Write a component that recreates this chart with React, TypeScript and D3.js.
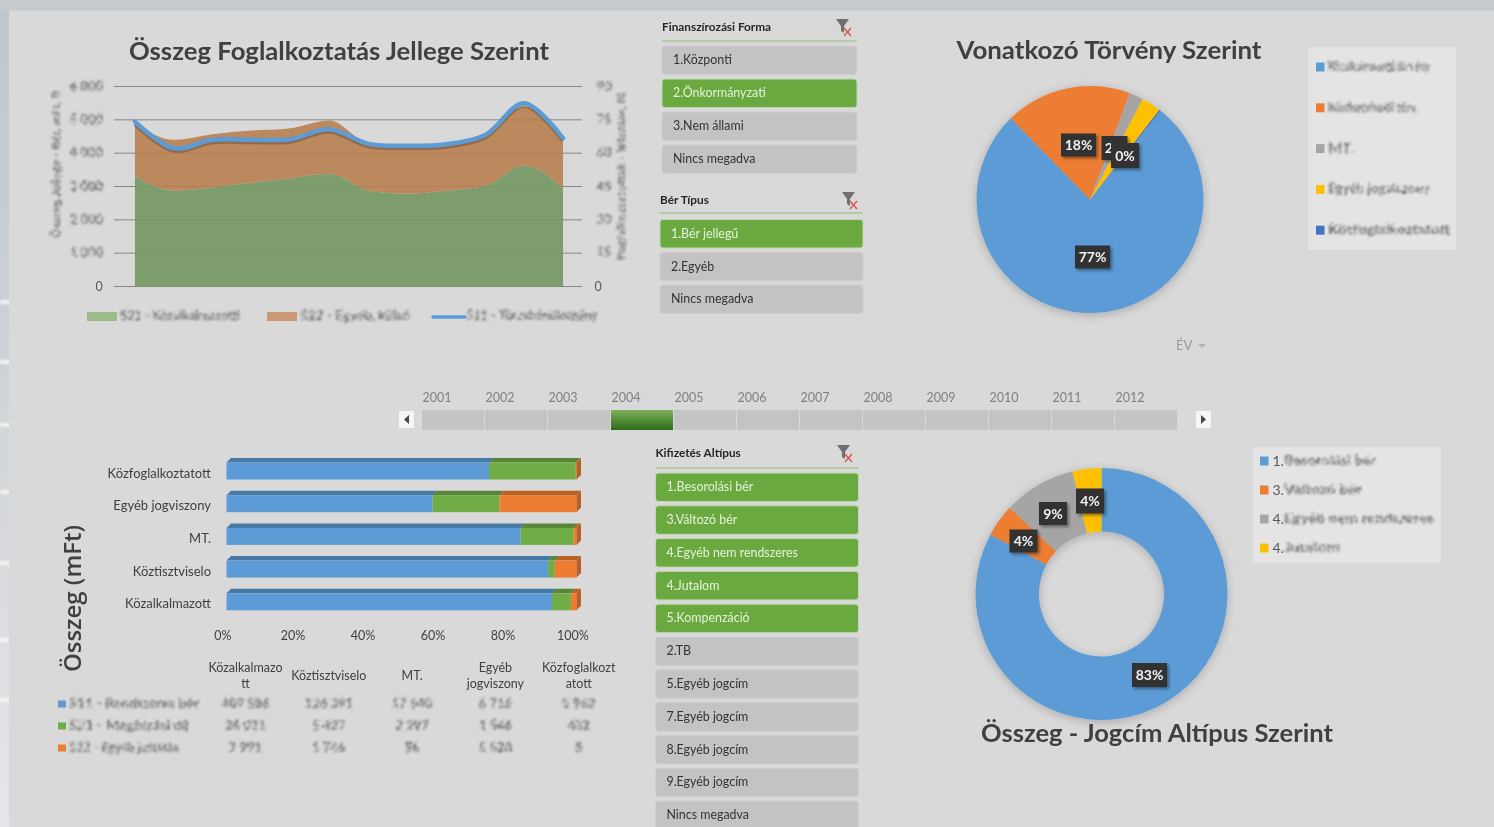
import React from "react";
import * as d3 from "d3";

const months = ["01","02","03","04","05","06","07","08","09","10","11","12"];
const greenSeries = [3300,2880,2970,3120,3250,3380,2880,2780,2870,3020,3630,2950];
const orangeSeries = [1600,1520,1600,1560,1500,1600,1400,1390,1380,1560,1770,1450];
const lineSeries = [74.2,62.2,66,66,66.3,70.8,64.2,63.3,64,68.2,82.5,66.7];
const rightTicks = [0,15,30,45,60,75,90];
const areaLegend = ["521 - Közalkalmazotti","522 - Egyéb, külső","511 - Törzsbérállomány"];

const pieValues = [77,18,2,2.8,0.2];
const pieNames = ["Közalkalmazotti törvény","Köztisztviselői törv.","MT.","Egyéb jogviszony","Közfoglalkoztatott"];
const pieColors = ["#5b9bd5","#ed7d31","#a5a5a5","#ffc000","#4472c4"];

const donutValues = [82.8,4.2,9.3,3.7];
const donutPrefix = ["1.","3.","4.","4."];
const donutNames = ["Besorolási bér","Változó bér","Egyéb nem rendszeres","Jutalom"];
const donutColors = ["#5b9bd5","#ed7d31","#a5a5a5","#ffc000"];

const barCats = ["Közfoglalkoztatott","Egyéb jogviszony","MT.","Köztisztviselo","Közalkalmazott"];
const barBlue = [75,58.9,84,91.9,93];
const barGreen = [24.8,19.1,15.2,1.9,5.4];
const barOrange = [0.2,22,0.8,6.2,1.6];
const barTicks = [0,20,40,60,80,100];

const tableHeads = [["Közalkalmazo","tt"],["Köztisztviselo"],["MT."],["Egyéb","jogviszony"],["Közfoglalkozt","atott"]];
const tableNames = ["511 - Rendszeres bér","521 - Megbízási díj","522 - Egyéb juttatás"];
const tableRows = [
  ["409 586","126 391","17 540","6 716","5 962"],
  ["26 021","5 427","2 297","1 546","432"],
  ["7 991","1 746","56","5 620","5"],
];
const tableColors = ["#5b9bd5","#70ad47","#ed7d31"];

const years = ["2001","2002","2003","2004","2005","2006","2007","2008","2009","2010","2011","2012"];
const selectedYear = "2004";

const slicerA = ["1.Központi","2.Önkormányzati","3.Nem állami","Nincs megadva"];
const slicerAOn = ["2.Önkormányzati"];
const slicerB = ["1.Bér jellegű","2.Egyéb","Nincs megadva"];
const slicerBOn = ["1.Bér jellegű"];
const slicerC = ["1.Besorolási bér","3.Változó bér","4.Egyéb nem rendszeres","4.Jutalom","5.Kompenzáció","2.TB","5.Egyéb jogcím","7.Egyéb jogcím","8.Egyéb jogcím","9.Egyéb jogcím","Nincs megadva"];
const slicerCOn = ["1.Besorolási bér","3.Változó bér","4.Egyéb nem rendszeres","4.Jutalom","5.Kompenzáció"];

const edgeStreaks = [302,362,425,492,563,640,700];

const FONT = "Lato, 'Open Sans', sans-serif";
const W = 1494, H = 827;
const fmt = d3.formatLocale({ decimal: ",", thousands: " ", grouping: [3], currency: ["", ""] }).format(",d");

function Funnel({ x, y }: { x: number; y: number }) {
  return (
    <g transform={`translate(${x},${y})`}>
      <path d="M-7,-9 H6 L1,-2 V5 L-2,3 V-2 Z" fill="#6f6f6f" />
      <path d="M1,0 L8,8 M8,0 L1,8" stroke="#d9534f" strokeWidth={1.4} fill="none" />
    </g>
  );
}

function Slicer({ title, items, on, x, w, titleY, lineY, y0, step, h, ix }: any) {
  return (
    <g fontFamily={FONT}>
      <text x={x} y={titleY} fontSize={11.8} fontWeight={700} fill="#262626">{title}</text>
      <line x1={x} x2={x + w} y1={lineY} y2={lineY} stroke="#a9c596" strokeWidth={1.6} />
      <Funnel x={ix} y={titleY - 3} />
      {items.map((t: string, i: number) => {
        const act = on.includes(t);
        return (
          <g key={t}>
            <rect x={x} y={y0 + i * step} width={w} height={h} rx={3} fill={act ? "#6aa93f" : "#c3c3c3"} stroke={act ? "#c0d8ae" : "#cfcfcf"} strokeWidth={1} />
            <text x={x + 11} y={y0 + i * step + h / 2 + 4} fontSize={12.4} fill={act ? "#e6f2dc" : "#333"}>{t}</text>
          </g>
        );
      })}
    </g>
  );
}

function Box({ cx, cy, w, h, t }: { cx: number; cy: number; w: number; h: number; t: string }) {
  return (
    <g filter="url(#lblShadow)">
      <rect x={cx - w / 2} y={cy - h / 2} width={w} height={h} fill="#333333" />
      <text x={cx} y={cy + 5} textAnchor="middle" fontSize={14} fontWeight={700} fill="#f2f2f2" fontFamily={FONT}>{t}</text>
    </g>
  );
}

export default function App() {
  // area chart
  const xA = d3.scalePoint<string>().domain(months).range([115.5, 582.5]).padding(0.5);
  const yL = d3.scaleLinear().domain([0, 6000]).range([286.5, 86.5]);
  const yR = d3.scaleLinear().domain([0, 90]).range([286.5, 86.5]);
  const rows = months.map((m, i) => ({ m, g: greenSeries[i], o: orangeSeries[i], l: lineSeries[i] }));
  const stacked = d3.stack<any>().keys(["g", "o"])(rows);
  const area = d3.area<any>().x((d) => xA(d.data.m)!).y0((d) => yL(d[0])).y1((d) => yL(d[1])).curve(d3.curveMonotoneX);
  const line = d3.line<any>().x((d) => xA(d.m)!).y((d) => yR(d.l)).curve(d3.curveCatmullRom.alpha(0.5));
  const ticks = yL.ticks(6);

  // pie
  const pieGen = d3.pie<number>().sort(null).startAngle((38.5 * Math.PI) / 180).endAngle((398.5 * Math.PI) / 180);
  const pieArcs = pieGen(pieValues);
  const pieArc = d3.arc<any>().innerRadius(0).outerRadius(113.5);

  // donut
  const donutArcs = d3.pie<number>().sort(null)(donutValues);
  const donutArc = d3.arc<any>().innerRadius(62.5).outerRadius(126);

  // bars
  const xB = d3.scaleLinear().domain([0, 100]).range([226.5, 576.5]);
  const yB = d3.scaleBand().domain(barCats).range([458, 621.5]).paddingInner(0);
  const depth = 4.5;
  const barH = 17;
  const darken = (c: string) => d3.color(c)!.darker(0.7).formatHex();

  // timeline
  const xT = d3.scaleBand().domain(years).range([422, 1178]);

  const redact = (seed: number) => `url(#redact${seed})`;

  return (
    <svg width={W} height={H} viewBox={`0 0 ${W} ${H}`} style={{ position: "absolute", left: 0, top: 0, display: "block" }}>
      <defs>
        <filter id="soft" filterUnits="userSpaceOnUse" x={0} y={0} width={W} height={H}>
          <feGaussianBlur stdDeviation={0.45} />
        </filter>
        <filter id="streak" x="-20%" y="-200%" width="140%" height="500%">
          <feGaussianBlur stdDeviation={1.2} />
        </filter>
        {[1, 2, 3].map((s) => (
          <filter key={s} id={`redact${s}`} x="-15%" y="-80%" width="130%" height="260%">
            <feTurbulence type="fractalNoise" baseFrequency={0.55} numOctaves={2} seed={s * 7} result="n" />
            <feDisplacementMap in="SourceGraphic" in2="n" scale={6} xChannelSelector="R" yChannelSelector="G" result="d" />
            <feGaussianBlur in="d" stdDeviation={0.85} />
          </filter>
        ))}
        <filter id="redactV" x="-80%" y="-10%" width="260%" height="120%">
          <feTurbulence type="fractalNoise" baseFrequency={0.55} numOctaves={2} seed={5} result="n" />
          <feDisplacementMap in="SourceGraphic" in2="n" scale={6} xChannelSelector="R" yChannelSelector="G" result="d" />
          <feGaussianBlur in="d" stdDeviation={0.85} />
        </filter>
        <filter id="pieShadow" x="-20%" y="-20%" width="140%" height="140%">
          <feDropShadow dx={0} dy={2} stdDeviation={5} floodColor="#000" floodOpacity={0.22} />
        </filter>
        <filter id="lblShadow" x="-30%" y="-30%" width="170%" height="170%">
          <feDropShadow dx={2} dy={2} stdDeviation={1.5} floodColor="#000" floodOpacity={0.4} />
        </filter>
        <linearGradient id="sel" x1="0" x2="0" y1="0" y2="1">
          <stop offset="0" stopColor="#7fb060" />
          <stop offset="0.55" stopColor="#4f8a32" />
          <stop offset="1" stopColor="#2f6b1c" />
        </linearGradient>
        <linearGradient id="edge" x1="0" x2="0" y1="0" y2="1">
          <stop offset="0" stopColor="#bfc7cd" />
          <stop offset="0.4" stopColor="#cbd1d6" />
          <stop offset="0.7" stopColor="#d8dce0" />
          <stop offset="1" stopColor="#e3e6ea" />
        </linearGradient>
      </defs>
      <g filter="url(#soft)">
        <rect x={0} y={0} width={W} height={H} fill="url(#edge)" />
        {edgeStreaks.map((y) => (
          <rect key={y} x={0} y={y - 2} width={12} height={4} fill="#f2f4f6" filter="url(#streak)" />
        ))}
        <rect x={0} y={0} width={W} height={10} fill="#c6cbd0" />
        <rect x={9} y={10.5} width={W - 9} height={H - 10.5} fill="#d9d9d9" />

        {/* Area chart */}
        <text x={339} y={60} textAnchor="middle" fontFamily={FONT} fontSize={25} fontWeight={700} fill="#404040" textLength={420} lengthAdjust="spacingAndGlyphs">Összeg Foglalkoztatás Jellege Szerint</text>
        {ticks.map((t) => (
          <line key={t} x1={114} x2={582} y1={yL(t)} y2={yL(t)} stroke="#868686" strokeWidth={1} />
        ))}
        <path d={area(stacked[0] as any)!} fill="#789a66" fillOpacity={0.95} />
        <path d={area(stacked[1] as any)!} fill="#b87f50" fillOpacity={0.9} />
        <path d={line(rows)!} fill="none" stroke="#000" strokeOpacity={0.22} strokeWidth={5} transform="translate(0,2)" />
        <path d={line(rows)!} fill="none" stroke="#5b9bd5" strokeWidth={4.5} strokeLinecap="round" />
        {ticks.map((t) =>
          t === 0 ? (
            <text key={t} x={99} y={yL(t) + 4} textAnchor="middle" fontFamily={FONT} fontSize={12.5} fill="#595959">0</text>
          ) : (
            <text key={t} x={103} y={yL(t) + 4} textAnchor="end" fontFamily={FONT} fontSize={13} fontWeight={700} fill="#7d7d7d" filter={redact(1)}>{fmt(t)}</text>
          )
        )}
        {rightTicks.map((t) =>
          t === 0 ? (
            <text key={t} x={598} y={yR(t) + 4} textAnchor="middle" fontFamily={FONT} fontSize={12.5} fill="#595959">0</text>
          ) : (
            <text key={t} x={604} y={yR(t) + 4} textAnchor="middle" fontFamily={FONT} fontSize={13} fontWeight={700} fill="#7d7d7d" filter={redact(2)}>{t}</text>
          )
        )}
        <text transform="translate(60,164) rotate(-90)" textAnchor="middle" fontFamily={FONT} fontSize={12} fontWeight={700} fill="#7d7d7d" filter="url(#redactV)" textLength={148} lengthAdjust="spacingAndGlyphs">Összeg Jellege - Bér, mFt, ft</text>
        <text transform="translate(625,176) rotate(-90)" textAnchor="middle" fontFamily={FONT} fontSize={12} fontWeight={700} fill="#7d7d7d" filter="url(#redactV)" textLength={168} lengthAdjust="spacingAndGlyphs">Foglalkoztatottak - létszám, fő</text>
        <rect x={87} y={312} width={30} height={9} fill="#9dba8b" />
        <text x={120} y={320} fontFamily={FONT} fontSize={13} fontWeight={700} fill="#7d7d7d" filter={redact(1)} textLength={120} lengthAdjust="spacingAndGlyphs">{areaLegend[0]}</text>
        <rect x={267} y={312} width={30} height={9} fill="#c99a74" />
        <text x={300} y={320} fontFamily={FONT} fontSize={13} fontWeight={700} fill="#7d7d7d" filter={redact(2)} textLength={110} lengthAdjust="spacingAndGlyphs">{areaLegend[1]}</text>
        <line x1={433} x2={465} y1={317} y2={317} stroke="#5b9bd5" strokeWidth={3.5} strokeLinecap="round" />
        <text x={466} y={320} fontFamily={FONT} fontSize={13} fontWeight={700} fill="#7d7d7d" filter={redact(3)} textLength={132} lengthAdjust="spacingAndGlyphs">{areaLegend[2]}</text>

        {/* Slicers */}
        <Slicer title="Finanszírozási Forma" items={slicerA} on={slicerAOn} x={662} w={195} titleY={31} lineY={41} y0={46} step={33} h={28.5} ix={843} />
        <Slicer title="Bér Típus" items={slicerB} on={slicerBOn} x={660} w={203} titleY={204} lineY={213} y0={219.5} step={32.8} h={28.5} ix={849} />
        <Slicer title="Kifizetés Altípus" items={slicerC} on={slicerCOn} x={655.5} w={203} titleY={457} lineY={468} y0={473} step={32.8} h={28.5} ix={844} />

        {/* Pie */}
        <text x={1109} y={59} textAnchor="middle" fontFamily={FONT} fontSize={25} fontWeight={700} fill="#404040" textLength={305} lengthAdjust="spacingAndGlyphs">Vonatkozó Törvény Szerint</text>
        <g transform="translate(1090,199.5)" filter="url(#pieShadow)">
          {pieArcs.map((a, i) => <path key={i} d={pieArc(a)!} fill={pieColors[i]} />)}
        </g>
        <Box cx={1078.5} cy={145} w={35} h={23} t={`${Math.round(pieValues[1])}%`} />
        <Box cx={1114.5} cy={148} w={26} h={24} t={`${Math.round(pieValues[2])}%`} />
        <Box cx={1125} cy={155.5} w={28} h={25} t={`${Math.round(pieValues[4])}%`} />
        <Box cx={1092.5} cy={257} w={35} h={23} t={`${Math.round(pieValues[0])}%`} />
        <rect x={1308} y={47} width={148} height={203} fill="#e4e4e4" />
        {pieNames.map((n, i) => {
          const y = 67 + i * 40.8;
          const widths = [102, 90, 26, 102, 122];
          return (
            <g key={n}>
              <rect x={1316} y={y - 4.5} width={8.5} height={9} fill={pieColors[i]} />
              <text x={1328} y={y + 4} fontFamily={FONT} fontSize={14} fontWeight={700} fill="#7a7a7a" filter={redact((i % 3) + 1)} textLength={widths[i]} lengthAdjust="spacingAndGlyphs">{n}</text>
            </g>
          );
        })}
        <text x={1176} y={350} fontFamily={FONT} fontSize={13} fill="#9a9a9a">ÉV</text>
        <path d="M1198,344 h8 l-4,4 Z" fill="#b5b5b5" />

        {/* Timeline */}
        {years.map((y) => (
          <g key={y}>
            <text x={xT(y)! + 15} y={402} textAnchor="middle" fontFamily={FONT} fontSize={12.5} fill="#7f7f7f">{y}</text>
            <rect x={xT(y)!} y={410} width={xT.bandwidth() - 1} height={20} fill={y === selectedYear ? "url(#sel)" : "#c4c4c4"} />
          </g>
        ))}
        <rect x={399} y={411} width={15} height={17} fill="#f6f6f6" />
        <path d="M409,415 v9 l-5,-4.5 Z" fill="#444" />
        <rect x={1196} y={411} width={15} height={17} fill="#f6f6f6" />
        <path d="M1201,415 v9 l5,-4.5 Z" fill="#444" />

        {/* Bars */}
        {barCats.map((c, i) => {
          const y = yB(c)!;
          const segs = [
            { s: 0, v: barBlue[i], col: "#5b9bd5" },
            { s: barBlue[i], v: barGreen[i], col: "#70ad47" },
            { s: barBlue[i] + barGreen[i], v: barOrange[i], col: "#ed7d31" },
          ];
          return (
            <g key={c}>
              <text x={211} y={y + 19.5} textAnchor="end" fontFamily={FONT} fontSize={13} fill="#404040">{c}</text>
              {segs.map((g, k) => {
                const x0 = xB(g.s), x1 = xB(g.s + g.v);
                return (
                  <g key={k}>
                    <path d={`M${x0},${y + depth} L${x0 + depth},${y} H${x1 + depth} L${x1},${y + depth} Z`} fill={darken(g.col)} />
                    <rect x={x0} y={y + depth} width={Math.max(x1 - x0, 0)} height={barH} fill={g.col} />
                  </g>
                );
              })}
              <path d={`M${xB(100)},${y + depth} L${xB(100) + depth},${y} V${y + barH} L${xB(100)},${y + depth + barH} Z`} fill={darken(barOrange[i] > 0 ? "#ed7d31" : "#70ad47")} />
            </g>
          );
        })}
        {barTicks.map((t) => (
          <text key={t} x={xB(t) - 3.5} y={640} textAnchor="middle" fontFamily={FONT} fontSize={12.5} fill="#404040">{t}%</text>
        ))}
        <text transform="translate(81,598.5) rotate(-90)" textAnchor="middle" fontFamily="'Open Sans', sans-serif" fontSize={24} fontWeight={600} fill="#404040" textLength={147} lengthAdjust="spacingAndGlyphs">Összeg (mFt)</text>

        {/* Table */}
        {tableHeads.map((h, i) => {
          const cx = 245.5 + i * 83.3;
          return h.map((t, k) => (
            <text key={t} x={cx} y={(h.length === 1 ? 680 : 672 + k * 16)} textAnchor="middle" fontFamily={FONT} fontSize={12.5} fill="#404040">{t}</text>
          ));
        })}
        {tableNames.map((n, r) => {
          const y = 704 + r * 22;
          return (
            <g key={n}>
              <rect x={58} y={y - 3.5} width={8} height={7} fill={tableColors[r]} />
              <text x={69} y={y + 4} fontFamily={FONT} fontSize={13} fontWeight={700} fill="#7a7a7a" filter={redact(r + 1)} textLength={[130, 120, 110][r]} lengthAdjust="spacingAndGlyphs">{n}</text>
              {tableRows[r].map((v, i) => (
                <text key={i} x={245.5 + i * 83.3} y={y + 4} textAnchor="middle" fontFamily={FONT} fontSize={13} fontWeight={700} fill="#7a7a7a" filter={redact(((r + i) % 3) + 1)}>{v}</text>
              ))}
            </g>
          );
        })}

        {/* Donut */}
        <g transform="translate(1101.5,594)" filter="url(#pieShadow)">
          {donutArcs.map((a, i) => <path key={i} d={donutArc(a)!} fill={donutColors[i]} />)}
        </g>
        <Box cx={1090} cy={501} w={28} h={25} t={`${Math.round(donutValues[3])}%`} />
        <Box cx={1053} cy={513.5} w={28} h={23} t={`${Math.round(donutValues[2])}%`} />
        <Box cx={1023.5} cy={541} w={28} h={23} t={`${Math.round(donutValues[1])}%`} />
        <Box cx={1149.5} cy={675} w={35} h={24} t={`${Math.round(donutValues[0])}%`} />
        <text x={1157} y={742} textAnchor="middle" fontFamily={FONT} fontSize={25} fontWeight={700} fill="#404040" textLength={352} lengthAdjust="spacingAndGlyphs">Összeg - Jogcím Altípus Szerint</text>
        <rect x={1252.5} y={447} width={188.5} height={116} fill="#e4e4e4" />
        {donutNames.map((n, i) => {
          const y = 461 + i * 29;
          const widths = [92, 78, 150, 56];
          return (
            <g key={i}>
              <rect x={1260} y={y - 4.5} width={8.5} height={9} fill={donutColors[i]} />
              <text x={1272.5} y={y + 5} fontFamily={FONT} fontSize={14} fill="#595959">{donutPrefix[i]}</text>
              <text x={1284} y={y + 4} fontFamily={FONT} fontSize={14} fontWeight={700} fill="#7a7a7a" filter={redact((i % 3) + 1)} textLength={widths[i]} lengthAdjust="spacingAndGlyphs">{n}</text>
            </g>
          );
        })}
      </g>
    </svg>
  );
}
